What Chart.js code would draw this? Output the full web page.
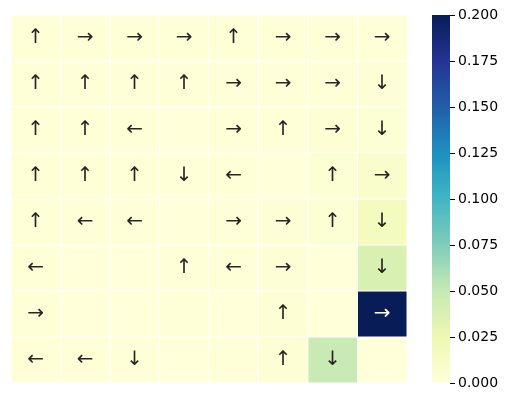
<!DOCTYPE html>
<html><head><meta charset="utf-8">
<script src="https://cdn.jsdelivr.net/npm/chart.js@4"></script>
<style>
html,body{margin:0;padding:0;background:#fff;}
#wrap{position:relative;width:509px;height:402px;}
#heat{position:absolute;left:0;top:0;}
#cbar{position:absolute;left:432px;top:0;}
</style></head>
<body><div id="wrap">
<canvas id="heat" width="509" height="402" style="width:509px;height:402px"></canvas>
<canvas id="cbar" width="77" height="402" style="width:77px;height:402px"></canvas>
</div>
<script>
const columns = ['0','1','2','3','4','5','6','7'];
const row0 = [0.001,0.001,0.001,0.001,0.001,0.001,0.001,0.001];
const row1 = [0.001,0.001,0.001,0.001,0.001,0.001,0.001,0.002];
const row2 = [0.001,0.001,0.001,0.000,0.001,0.001,0.003,0.004];
const row3 = [0.001,0.001,0.001,0.001,0.001,0.000,0.004,0.009];
const row4 = [0.001,0.001,0.001,0.000,0.001,0.002,0.004,0.016];
const row5 = [0.001,0.000,0.000,0.001,0.001,0.002,0.000,0.038];
const row6 = [0.001,0.000,0.000,0.001,0.000,0.003,0.000,0.200];
const row7 = [0.001,0.001,0.001,0.000,0.001,0.003,0.049,0.000];
const values = [row0,row1,row2,row3,row4,row5,row6,row7];
const arrows0 = ['↑','→','→','→','↑','→','→','→'];
const arrows1 = ['↑','↑','↑','↑','→','→','→','↓'];
const arrows2 = ['↑','↑','←','','→','↑','→','↓'];
const arrows3 = ['↑','↑','↑','↓','←','','↑','→'];
const arrows4 = ['↑','←','←','','→','→','↑','↓'];
const arrows5 = ['←','','','↑','←','→','','↓'];
const arrows6 = ['→','','','','','↑','','→'];
const arrows7 = ['←','←','↓','','','↑','↓',''];
const arrows = [arrows0,arrows1,arrows2,arrows3,arrows4,arrows5,arrows6,arrows7];
const vmin = 0, vmax = 0.2;
const cbarTicks = [0,0.025,0.05,0.075,0.1,0.125,0.15,0.175,0.2];

const YlGnBu = ['#ffffd9','#edf8b1','#c7e9b4','#7fcdbb','#41b6c4','#1d91c0','#225ea8','#253494','#081d58'];
function hex2rgb(h){return [parseInt(h.slice(1,3),16),parseInt(h.slice(3,5),16),parseInt(h.slice(5,7),16)];}
const stops = YlGnBu.map(hex2rgb);
function cmap(v){
  let t = (v - vmin)/(vmax - vmin); t = Math.max(0,Math.min(1,t));
  const p = t*(stops.length-1); const i = Math.min(stops.length-2, Math.floor(p)); const f = p - i;
  const a = stops[i], b = stops[i+1];
  return 'rgb(' + [0,1,2].map(k=>Math.round(a[k]+(b[k]-a[k])*f)).join(',') + ')';
}
function lum(v){ return (v - vmin)/(vmax-vmin) > 0.6; }

const datasets = values.map((row, r) => ({
  label: 'row ' + r,
  data: row.map(() => [r, r+1]),
  backgroundColor: row.map(v => cmap(v)),
  borderColor: '#ffffff',
  borderWidth: 0.8,
  borderSkipped: false,
  grouped: false,
  barPercentage: 1,
  categoryPercentage: 1
}));

const arrowPlugin = {
  id: 'arrows',
  afterDatasetsDraw(chart){
    const ctx = chart.ctx;
    const xs = chart.scales.x, ys = chart.scales.y;
    ctx.save();
    ctx.font = '20px "DejaVu Sans"';
    ctx.textAlign = 'center';
    ctx.textBaseline = 'middle';
    arrows.forEach((row, r) => row.forEach((a, c) => {
      if (!a) return;
      const x = xs.getPixelForValue(c);
      const y = ys.getPixelForValue(r + 0.5);
      ctx.fillStyle = lum(values[r][c]) ? '#ffffff' : '#262626';
      ctx.fillText(a, x, y);
    }));
    ctx.restore();
  }
};

new Chart(document.getElementById('heat'), {
  type: 'bar',
  data: { labels: columns, datasets },
  options: {
    responsive: false, animation: false,
    layout: { padding: { left: 11, top: 15, right: 102, bottom: 19 } },
    plugins: { legend: { display: false }, tooltip: { enabled: false } },
    scales: {
      x: { display: false, offset: true },
      y: { display: false, min: 0, max: 8, reverse: true }
    }
  },
  plugins: [arrowPlugin]
});

new Chart(document.getElementById('cbar'), {
  type: 'bar',
  data: { labels: ['c'], datasets: [{
    data: [[vmin, vmax]],
    backgroundColor(ctx){
      const ca = ctx.chart.chartArea;
      if (!ca) return YlGnBu[0];
      const g = ctx.chart.ctx.createLinearGradient(0, ca.bottom, 0, ca.top);
      YlGnBu.forEach((c,i) => g.addColorStop(i/(YlGnBu.length-1), c));
      return g;
    },
    borderWidth: 0, barPercentage: 1, categoryPercentage: 1
  }]},
  options: {
    responsive: false, animation: false,
    layout: { padding: { left: 0, top: 15, right: 0, bottom: 19 } },
    plugins: { legend: { display: false }, tooltip: { enabled: false } },
    scales: {
      x: { display: false },
      y: {
        position: 'right', min: vmin, max: vmax,
        afterBuildTicks(s){ s.ticks = cbarTicks.map(v => ({ value: v })); },
        afterFit(s){ s.width = 59; },
        border: { display: false },
        grid: { drawOnChartArea: false, drawTicks: true, tickLength: 5, color: '#000000', tickWidth: 1 },
        ticks: { color: '#000000', padding: 3, font: { family: 'DejaVu Sans', size: 14 },
          callback: v => Number(v).toFixed(3) }
      }
    }
  }
});
</script></body></html>
